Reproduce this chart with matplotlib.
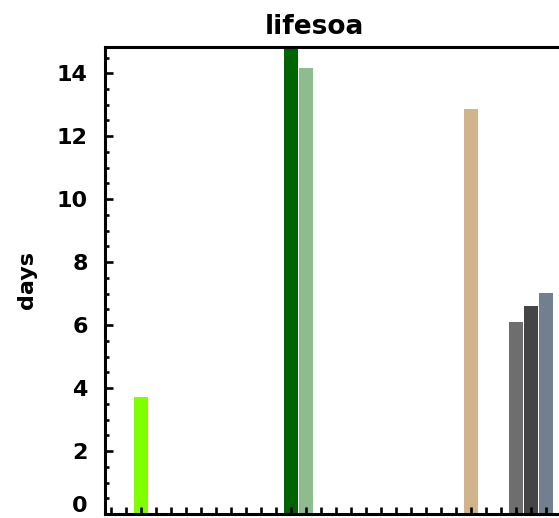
import numpy as np
import matplotlib.pyplot as plt
from matplotlib.ticker import MultipleLocator, FuncFormatter

# bar slots along the x axis and their lifetimes (days)
slots = [2, 12, 13, 24, 27, 28, 29]
days = [3.71, 14.95, 14.16, 12.86, 6.10, 6.61, 7.03]
colors = ["#7fff00", "#006400", "#8fbc8f", "#d2b48c", "#6e6e6e", "#454545", "#708090"]

W, H = 559, 518
fig = plt.figure(figsize=(W/100, H/100), dpi=100)
# axes run off the right edge of the figure
left, right, bottom, top = 104.5, 650, 514, 46.5
ax = fig.add_axes([left/W, (H-bottom)/H, (right-left)/W, (bottom-top)/H])

ax.bar(slots, days, width=0.88, color=colors, linewidth=0)

ax.set_xlim(-0.43, (right-111)/15)
ax.set_ylim(0, 14.85)

ax.xaxis.set_major_locator(MultipleLocator(1))
ax.yaxis.set_major_locator(MultipleLocator(2))
ax.yaxis.set_minor_locator(MultipleLocator(0.5))
# the "0" label is drawn by hand a little higher so it stays in the figure
ax.yaxis.set_major_formatter(FuncFormatter(lambda v, p: "" if v == 0 else f"{v:g}"))
ax.tick_params(axis="x", which="major", direction="in", length=5.2, width=1.9,
               labelbottom=False, top=False)
ax.tick_params(axis="y", which="major", direction="in", length=5.8, width=1.9,
               labelsize=16, pad=12, right=False)
ax.tick_params(axis="y", which="minor", direction="in", length=2.9, width=1.9,
               right=False)
for lab in ax.get_yticklabels():
    lab.set_fontweight("bold")
ax.annotate("0", xy=(0, 0), xycoords=("axes fraction", "data"),
            xytext=(-12, 6), textcoords="offset points",
            ha="right", va="center", fontsize=16, fontweight="bold")

for side in ["left", "bottom", "top"]:
    ax.spines[side].set_linewidth(2.2)
ax.spines["right"].set_visible(False)

ax.set_ylabel("days", fontsize=16, fontweight="bold", labelpad=14)
fig.text(314/W, 1 - 27/H, "lifesoa", ha="center", va="center",
         fontsize=19, fontweight="bold")

fig.savefig("out.png", dpi=100)
